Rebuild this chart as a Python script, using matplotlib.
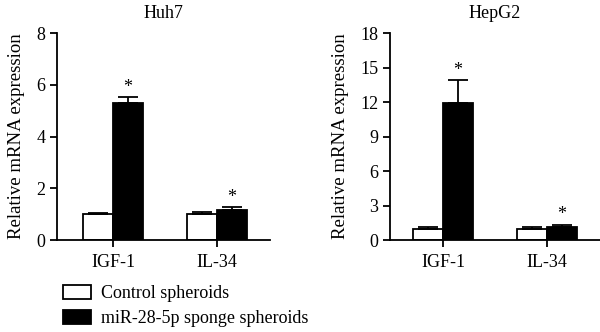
import numpy as np
import matplotlib
matplotlib.use("Agg")
from matplotlib import pyplot as plt
from matplotlib.patches import Patch

plt.rcParams['font.family'] = ['Liberation Serif', 'DejaVu Serif']

genes = ["IGF-1", "IL-34"]
groups = ["Control spheroids", "miR-28-5p sponge spheroids"]

# Huh7
huh7_ctrl = [1.0, 1.0]
huh7_ctrl_err = [0.06, 0.1]
huh7_sponge = [5.3, 1.17]
huh7_sponge_err = [0.24, 0.1]

# HepG2
hepg2_ctrl = [1.0, 1.0]
hepg2_ctrl_err = [0.15, 0.1]
hepg2_sponge = [11.9, 1.1]
hepg2_sponge_err = [2.0, 0.25]

fig = plt.figure(figsize=(6.0, 3.32), dpi=100)
ax1 = fig.add_axes([0.095, 0.277, 0.355, 0.623])
ax2 = fig.add_axes([0.65, 0.277, 0.35, 0.623])

width = 0.288
x = np.arange(len(genes))
fs = 13


def draw_panel(ax, title, ctrl, ctrl_err, sponge, sponge_err, ymax, step, star_gap, xlim):
    ax.bar(x - width / 2, ctrl, width, color="white", edgecolor="black", linewidth=1.3)
    ax.bar(x + width / 2, sponge, width, color="black", edgecolor="black", linewidth=1.3)
    ax.errorbar(x - width / 2, ctrl, yerr=[np.zeros(len(ctrl)), ctrl_err], fmt="none",
                ecolor="black", elinewidth=1.3, capsize=7.5, capthick=1.3)
    ax.errorbar(x + width / 2, sponge, yerr=[np.zeros(len(sponge)), sponge_err], fmt="none",
                ecolor="black", elinewidth=1.3, capsize=7.5, capthick=1.3)
    for xi, v, e in zip(x + width / 2, sponge, sponge_err):
        ax.text(xi, v + e + star_gap, "*", ha="center", va="bottom", fontsize=fs)
    ax.set_ylim(0, ymax)
    ax.set_yticks(np.arange(0, ymax + 0.1, step))
    ax.set_xlim(*xlim)
    ax.set_xticks(x)
    ax.set_xticklabels(genes)
    ax.spines["top"].set_visible(False)
    ax.spines["right"].set_visible(False)
    ax.spines["left"].set_linewidth(1.3)
    ax.spines["bottom"].set_linewidth(1.3)
    ax.tick_params(axis="both", labelsize=fs, width=1.3, length=5)
    ax.tick_params(axis="x", length=5, pad=5)
    ax.set_ylabel("Relative mRNA expression", fontsize=13.5, labelpad=8)
    ax.set_title(title, fontsize=fs, pad=11)


draw_panel(ax1, "Huh7", huh7_ctrl, huh7_ctrl_err, huh7_sponge, huh7_sponge_err,
           8, 2, 0.05, (-0.538, 1.51))
draw_panel(ax2, "HepG2", hepg2_ctrl, hepg2_ctrl_err, hepg2_sponge, hepg2_sponge_err,
           18, 3, 0.1, (-0.51, 1.51))

handles = [Patch(facecolor="white", edgecolor="black", linewidth=1.3),
           Patch(facecolor="black", edgecolor="black", linewidth=1.3)]
fig.legend(handles, groups, loc="lower left", bbox_to_anchor=(0.078, -0.035),
           frameon=False, fontsize=fs, handlelength=1.55, handleheight=0.75,
           labelspacing=0.45, handletextpad=0.55)

fig.savefig("out.png", dpi=100)
